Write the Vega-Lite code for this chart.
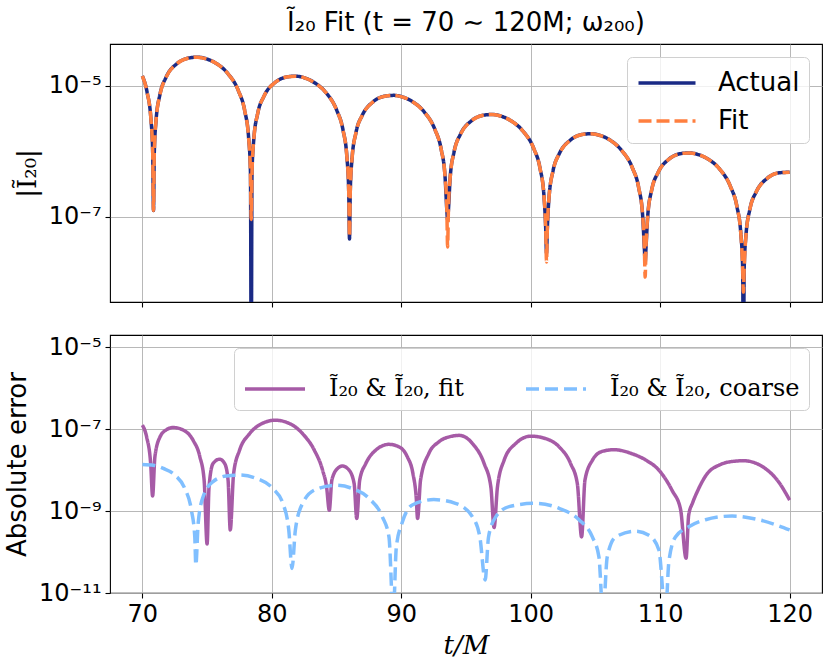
{
  "$schema": "https://vega.github.io/schema/vega-lite/v6.json",
  "background": "white",
  "padding": {"left": 4, "top": 9, "right": 8, "bottom": 5},
  "bounds": "flush",
  "spacing": 33,
  "resolve": {"scale": {"color": "independent", "strokeDash": "independent"}, "legend": {"color": "independent", "strokeDash": "independent"}},
  "config": {
    "font": "DejaVu Sans",
    "view": {"stroke": "black", "strokeWidth": 1.1},
    "axis": {
      "labelFontSize": 24, "labelColor": "black", "labelFont": "DejaVu Sans",
      "tickColor": "black", "tickSize": 5, "tickWidth": 1.1, "domain": false,
      "gridColor": "#b0b0b0", "gridWidth": 0.9, "labelPadding": 4,
      "titleFontSize": 26, "titleFontWeight": "normal", "titleColor": "black"
    },
    "legend": {
      "orient": "top-right", "offset": 13, "fillColor": "rgba(255,255,255,0.8)",
      "strokeColor": "#d0d0d0", "cornerRadius": 5, "padding": 9,
      "symbolType": "stroke", "symbolStrokeWidth": 3.5, "labelColor": "black",
      "labelFontSize": 26, "title": null, "labelLimit": 400
    }
  },
  "vconcat": [
    {
      "width": 712,
      "height": 258,
      "title": {"text": "Ĩ₂₀ Fit (t = 70 ∼ 120M; ω₂₀₀)", "fontSize": 26, "fontWeight": "normal", "font": "DejaVu Sans", "color": "black", "frame": "group", "anchor": "middle", "offset": 8},
      "data": {"values": [
        {"t": 70, "Actual": 1.419e-5, "Fit": 1.419e-5},
        {"t": 70.36, "Actual": 8.11e-6, "Fit": 8.11e-6},
        {"t": 70.66, "Actual": 3.13e-6, "Fit": 3.13e-6},
        {"t": 70.80, "Actual": 9.51e-7, "Fit": 9.51e-7},
        {"t": 70.86, "Actual": 1.25e-7, "Fit": 1.25e-7},
        {"t": 70.92, "Actual": 9.40e-7, "Fit": 9.40e-7},
        {"t": 71.06, "Actual": 3.02e-6, "Fit": 3.02e-6},
        {"t": 71.36, "Actual": 7.41e-6, "Fit": 7.41e-6},
        {"t": 71.84, "Actual": 1.37e-5, "Fit": 1.37e-5},
        {"t": 72.67, "Actual": 2.19e-5, "Fit": 2.19e-5},
        {"t": 73.58, "Actual": 2.67e-5, "Fit": 2.67e-5},
        {"t": 74.26, "Actual": 2.75e-5, "Fit": 2.75e-5},
        {"t": 75.01, "Actual": 2.57e-5, "Fit": 2.57e-5},
        {"t": 75.69, "Actual": 2.22e-5, "Fit": 2.22e-5},
        {"t": 76.60, "Actual": 1.55e-5, "Fit": 1.55e-5},
        {"t": 77.43, "Actual": 8.34e-6, "Fit": 8.34e-6},
        {"t": 77.91, "Actual": 4.15e-6, "Fit": 4.15e-6},
        {"t": 78.21, "Actual": 1.60e-6, "Fit": 1.60e-6},
        {"t": 78.35, "Actual": 4.86e-7, "Fit": 4.86e-7},
        {"t": 78.41, "Actual": 3e-10, "Fit": 9.12e-8},
        {"t": 78.47, "Actual": 4.81e-7, "Fit": 4.81e-7},
        {"t": 78.61, "Actual": 1.55e-6, "Fit": 1.55e-6},
        {"t": 78.91, "Actual": 3.79e-6, "Fit": 3.79e-6},
        {"t": 79.40, "Actual": 7.01e-6, "Fit": 7.01e-6},
        {"t": 80.23, "Actual": 1.12e-5, "Fit": 1.12e-5},
        {"t": 81.14, "Actual": 1.37e-5, "Fit": 1.37e-5},
        {"t": 81.83, "Actual": 1.41e-5, "Fit": 1.41e-5},
        {"t": 82.58, "Actual": 1.32e-5, "Fit": 1.32e-5},
        {"t": 83.27, "Actual": 1.13e-5, "Fit": 1.13e-5},
        {"t": 84.18, "Actual": 7.91e-6, "Fit": 7.91e-6},
        {"t": 85.01, "Actual": 4.27e-6, "Fit": 4.27e-6},
        {"t": 85.50, "Actual": 2.12e-6, "Fit": 2.12e-6},
        {"t": 85.80, "Actual": 8.17e-7, "Fit": 8.17e-7},
        {"t": 85.94, "Actual": 2.48e-7, "Fit": 2.48e-7},
        {"t": 86.00, "Actual": 4.57e-8, "Fit": 5.01e-8},
        {"t": 86.06, "Actual": 2.45e-7, "Fit": 2.45e-7},
        {"t": 86.20, "Actual": 7.89e-7, "Fit": 7.89e-7},
        {"t": 86.50, "Actual": 1.94e-6, "Fit": 1.94e-6},
        {"t": 86.99, "Actual": 3.57e-6, "Fit": 3.57e-6},
        {"t": 87.82, "Actual": 5.71e-6, "Fit": 5.71e-6},
        {"t": 88.73, "Actual": 6.98e-6, "Fit": 6.98e-6},
        {"t": 89.41, "Actual": 7.18e-6, "Fit": 7.18e-6},
        {"t": 90.17, "Actual": 6.71e-6, "Fit": 6.71e-6},
        {"t": 90.85, "Actual": 5.78e-6, "Fit": 5.78e-6},
        {"t": 91.76, "Actual": 4.04e-6, "Fit": 4.04e-6},
        {"t": 92.59, "Actual": 2.18e-6, "Fit": 2.18e-6},
        {"t": 93.08, "Actual": 1.08e-6, "Fit": 1.08e-6},
        {"t": 93.38, "Actual": 4.17e-7, "Fit": 4.17e-7},
        {"t": 93.52, "Actual": 1.27e-7, "Fit": 1.27e-7},
        {"t": 93.58, "Actual": 8.91e-8, "Fit": 3.47e-8},
        {"t": 93.64, "Actual": 1.25e-7, "Fit": 1.25e-7},
        {"t": 93.78, "Actual": 4.03e-7, "Fit": 4.03e-7},
        {"t": 94.08, "Actual": 9.89e-7, "Fit": 9.89e-7},
        {"t": 94.57, "Actual": 1.83e-6, "Fit": 1.83e-6},
        {"t": 95.41, "Actual": 2.92e-6, "Fit": 2.92e-6},
        {"t": 96.33, "Actual": 3.56e-6, "Fit": 3.56e-6},
        {"t": 97.02, "Actual": 3.66e-6, "Fit": 3.66e-6},
        {"t": 97.78, "Actual": 3.42e-6, "Fit": 3.42e-6},
        {"t": 98.47, "Actual": 2.94e-6, "Fit": 2.94e-6},
        {"t": 99.39, "Actual": 2.05e-6, "Fit": 2.05e-6},
        {"t": 100.23, "Actual": 1.11e-6, "Fit": 1.11e-6},
        {"t": 100.72, "Actual": 5.50e-7, "Fit": 5.50e-7},
        {"t": 101.02, "Actual": 2.12e-7, "Fit": 2.12e-7},
        {"t": 101.16, "Actual": 6.44e-8, "Fit": 6.44e-8},
        {"t": 101.22, "Actual": 2.79e-8, "Fit": 2.04e-8},
        {"t": 101.28, "Actual": 6.37e-8, "Fit": 6.37e-8},
        {"t": 101.42, "Actual": 2.05e-7, "Fit": 2.05e-7},
        {"t": 101.72, "Actual": 5.02e-7, "Fit": 5.02e-7},
        {"t": 102.21, "Actual": 9.27e-7, "Fit": 9.27e-7},
        {"t": 103.05, "Actual": 1.48e-6, "Fit": 1.48e-6},
        {"t": 103.96, "Actual": 1.81e-6, "Fit": 1.81e-6},
        {"t": 104.65, "Actual": 1.86e-6, "Fit": 1.86e-6},
        {"t": 105.41, "Actual": 1.74e-6, "Fit": 1.74e-6},
        {"t": 106.10, "Actual": 1.50e-6, "Fit": 1.50e-6},
        {"t": 107.01, "Actual": 1.04e-6, "Fit": 1.04e-6},
        {"t": 107.85, "Actual": 5.62e-7, "Fit": 5.62e-7},
        {"t": 108.34, "Actual": 2.79e-7, "Fit": 2.79e-7},
        {"t": 108.64, "Actual": 1.08e-7, "Fit": 1.08e-7},
        {"t": 108.78, "Actual": 3.27e-8, "Fit": 3.27e-8},
        {"t": 108.84, "Actual": 2.00e-8, "Fit": 1.20e-8},
        {"t": 108.90, "Actual": 3.24e-8, "Fit": 3.24e-8},
        {"t": 109.04, "Actual": 1.04e-7, "Fit": 1.04e-7},
        {"t": 109.34, "Actual": 2.56e-7, "Fit": 2.56e-7},
        {"t": 109.83, "Actual": 4.72e-7, "Fit": 4.72e-7},
        {"t": 110.66, "Actual": 7.55e-7, "Fit": 7.55e-7},
        {"t": 111.57, "Actual": 9.23e-7, "Fit": 9.23e-7},
        {"t": 112.26, "Actual": 9.46e-7, "Fit": 9.46e-7},
        {"t": 113.01, "Actual": 8.85e-7, "Fit": 8.85e-7},
        {"t": 113.70, "Actual": 7.62e-7, "Fit": 7.62e-7},
        {"t": 114.61, "Actual": 5.32e-7, "Fit": 5.32e-7},
        {"t": 115.44, "Actual": 2.87e-7, "Fit": 2.87e-7},
        {"t": 115.93, "Actual": 1.43e-7, "Fit": 1.43e-7},
        {"t": 116.23, "Actual": 5.51e-8, "Fit": 5.51e-8},
        {"t": 116.37, "Actual": 1.67e-8, "Fit": 1.67e-8},
        {"t": 116.43, "Actual": 3e-10, "Fit": 7.08e-9},
        {"t": 116.49, "Actual": 1.66e-8, "Fit": 1.66e-8},
        {"t": 116.63, "Actual": 5.31e-8, "Fit": 5.31e-8},
        {"t": 116.93, "Actual": 1.31e-7, "Fit": 1.31e-7},
        {"t": 117.42, "Actual": 2.41e-7, "Fit": 2.41e-7},
        {"t": 118.25, "Actual": 3.85e-7, "Fit": 3.85e-7},
        {"t": 119.17, "Actual": 4.70e-7, "Fit": 4.70e-7},
        {"t": 120, "Actual": 4.80e-7, "Fit": 4.80e-7}
      ]},
      "transform": [{"fold": ["Actual", "Fit"], "as": ["series", "y"]}],
      "mark": {"type": "line", "clip": true, "strokeWidth": 3.5, "interpolate": "monotone", "strokeCap": "butt"},
      "encoding": {
        "x": {"field": "t", "type": "quantitative", "scale": {"domain": [67.5, 122.5], "nice": false, "zero": false},
              "axis": {"values": [70, 80, 90, 100, 110, 120], "labels": false, "title": null}},
        "y": {"field": "y", "type": "quantitative", "scale": {"type": "log", "domain": [4.99e-9, 4.375e-5], "nice": false},
              "axis": {"values": [1e-5, 1e-7], "labelExpr": "datum.value < 5e-11 ? '10⁻¹¹' : datum.value < 5e-9 ? '10⁻⁹' : datum.value < 5e-7 ? '10⁻⁷' : '10⁻⁵'",
                       "title": "|Ĩ₂₀|", "titleFont": "DejaVu Serif", "titlePadding": 8}},
        "color": {"field": "series", "type": "nominal", "scale": {"domain": ["Actual", "Fit"], "range": ["#1a2a85", "#ff7f3f"]},
                  "legend": {"labelFont": "DejaVu Sans", "symbolType": "M-1.9,0L1.9,0", "symbolSize": 900, "symbolOffset": 14, "rowPadding": 8, "labelOffset": 34, "direction": "vertical"}},
        "strokeDash": {"field": "series", "type": "nominal", "scale": {"domain": ["Actual", "Fit"], "range": [[1, 0], [13, 5]]},
                  "legend": {"labelFont": "DejaVu Sans", "symbolType": "M-1.9,0L1.9,0", "symbolSize": 900, "symbolOffset": 14, "rowPadding": 8, "labelOffset": 34, "direction": "vertical"}}
      }
    },
    {
      "width": 712,
      "height": 258,
      "data": {"values": [
        {"t": 70, "y": 1.26e-7, "s": "Ĩ₂₀ & Ĩ₂₀, fit"},
        {"t": 70.33, "y": 6.46e-8, "s": "Ĩ₂₀ & Ĩ₂₀, fit"},
        {"t": 70.64, "y": 1.45e-8, "s": "Ĩ₂₀ & Ĩ₂₀, fit"},
        {"t": 70.79, "y": 2.34e-9, "s": "Ĩ₂₀ & Ĩ₂₀, fit"},
        {"t": 70.97, "y": 2.14e-8, "s": "Ĩ₂₀ & Ĩ₂₀, fit"},
        {"t": 71.36, "y": 6.46e-8, "s": "Ĩ₂₀ & Ĩ₂₀, fit"},
        {"t": 71.87, "y": 9.77e-8, "s": "Ĩ₂₀ & Ĩ₂₀, fit"},
        {"t": 72.38, "y": 1.10e-7, "s": "Ĩ₂₀ & Ĩ₂₀, fit"},
        {"t": 73.15, "y": 9.55e-8, "s": "Ĩ₂₀ & Ĩ₂₀, fit"},
        {"t": 73.92, "y": 5.37e-8, "s": "Ĩ₂₀ & Ĩ₂₀, fit"},
        {"t": 74.44, "y": 2.14e-8, "s": "Ĩ₂₀ & Ĩ₂₀, fit"},
        {"t": 74.77, "y": 5.75e-9, "s": "Ĩ₂₀ & Ĩ₂₀, fit"},
        {"t": 75.0, "y": 1.58e-10, "s": "Ĩ₂₀ & Ĩ₂₀, fit"},
        {"t": 75.15, "y": 3.89e-9, "s": "Ĩ₂₀ & Ĩ₂₀, fit"},
        {"t": 75.46, "y": 1.45e-8, "s": "Ĩ₂₀ & Ĩ₂₀, fit"},
        {"t": 75.97, "y": 1.86e-8, "s": "Ĩ₂₀ & Ĩ₂₀, fit"},
        {"t": 76.36, "y": 1.45e-8, "s": "Ĩ₂₀ & Ĩ₂₀, fit"},
        {"t": 76.62, "y": 5.75e-9, "s": "Ĩ₂₀ & Ĩ₂₀, fit"},
        {"t": 76.79, "y": 3.47e-10, "s": "Ĩ₂₀ & Ĩ₂₀, fit"},
        {"t": 77.05, "y": 8.32e-9, "s": "Ĩ₂₀ & Ĩ₂₀, fit"},
        {"t": 77.51, "y": 3.09e-8, "s": "Ĩ₂₀ & Ĩ₂₀, fit"},
        {"t": 78.28, "y": 7.76e-8, "s": "Ĩ₂₀ & Ĩ₂₀, fit"},
        {"t": 79.31, "y": 1.41e-7, "s": "Ĩ₂₀ & Ĩ₂₀, fit"},
        {"t": 80.26, "y": 1.66e-7, "s": "Ĩ₂₀ & Ĩ₂₀, fit"},
        {"t": 81.36, "y": 1.38e-7, "s": "Ĩ₂₀ & Ĩ₂₀, fit"},
        {"t": 82.38, "y": 7.76e-8, "s": "Ĩ₂₀ & Ĩ₂₀, fit"},
        {"t": 83.28, "y": 3.09e-8, "s": "Ĩ₂₀ & Ĩ₂₀, fit"},
        {"t": 83.92, "y": 1.0e-8, "s": "Ĩ₂₀ & Ĩ₂₀, fit"},
        {"t": 84.23, "y": 3.89e-9, "s": "Ĩ₂₀ & Ĩ₂₀, fit"},
        {"t": 84.44, "y": 1.05e-9, "s": "Ĩ₂₀ & Ĩ₂₀, fit"},
        {"t": 84.64, "y": 5.75e-9, "s": "Ĩ₂₀ & Ĩ₂₀, fit"},
        {"t": 85.08, "y": 1.10e-8, "s": "Ĩ₂₀ & Ĩ₂₀, fit"},
        {"t": 85.46, "y": 1.26e-8, "s": "Ĩ₂₀ & Ĩ₂₀, fit"},
        {"t": 85.97, "y": 1.0e-8, "s": "Ĩ₂₀ & Ĩ₂₀, fit"},
        {"t": 86.36, "y": 4.68e-9, "s": "Ĩ₂₀ & Ĩ₂₀, fit"},
        {"t": 86.56, "y": 6.61e-10, "s": "Ĩ₂₀ & Ĩ₂₀, fit"},
        {"t": 86.79, "y": 5.75e-9, "s": "Ĩ₂₀ & Ĩ₂₀, fit"},
        {"t": 87.26, "y": 1.45e-8, "s": "Ĩ₂₀ & Ĩ₂₀, fit"},
        {"t": 88.03, "y": 3.09e-8, "s": "Ĩ₂₀ & Ĩ₂₀, fit"},
        {"t": 89.05, "y": 4.27e-8, "s": "Ĩ₂₀ & Ĩ₂₀, fit"},
        {"t": 89.82, "y": 3.72e-8, "s": "Ĩ₂₀ & Ĩ₂₀, fit"},
        {"t": 90.46, "y": 2.14e-8, "s": "Ĩ₂₀ & Ĩ₂₀, fit"},
        {"t": 90.90, "y": 8.32e-9, "s": "Ĩ₂₀ & Ĩ₂₀, fit"},
        {"t": 91.15, "y": 2.24e-9, "s": "Ĩ₂₀ & Ĩ₂₀, fit"},
        {"t": 91.26, "y": 6.61e-10, "s": "Ĩ₂₀ & Ĩ₂₀, fit"},
        {"t": 91.49, "y": 5.75e-9, "s": "Ĩ₂₀ & Ĩ₂₀, fit"},
        {"t": 92.13, "y": 2.57e-8, "s": "Ĩ₂₀ & Ĩ₂₀, fit"},
        {"t": 92.90, "y": 4.90e-8, "s": "Ĩ₂₀ & Ĩ₂₀, fit"},
        {"t": 93.92, "y": 6.76e-8, "s": "Ĩ₂₀ & Ĩ₂₀, fit"},
        {"t": 94.47, "y": 7.08e-8, "s": "Ĩ₂₀ & Ĩ₂₀, fit"},
        {"t": 95.5, "y": 4.47e-8, "s": "Ĩ₂₀ & Ĩ₂₀, fit"},
        {"t": 96.4, "y": 1.45e-8, "s": "Ĩ₂₀ & Ĩ₂₀, fit"},
        {"t": 96.92, "y": 3.89e-9, "s": "Ĩ₂₀ & Ĩ₂₀, fit"},
        {"t": 97.17, "y": 3.98e-10, "s": "Ĩ₂₀ & Ĩ₂₀, fit"},
        {"t": 97.43, "y": 3.89e-9, "s": "Ĩ₂₀ & Ĩ₂₀, fit"},
        {"t": 97.94, "y": 1.74e-8, "s": "Ĩ₂₀ & Ĩ₂₀, fit"},
        {"t": 98.84, "y": 4.47e-8, "s": "Ĩ₂₀ & Ĩ₂₀, fit"},
        {"t": 100.0, "y": 6.76e-8, "s": "Ĩ₂₀ & Ĩ₂₀, fit"},
        {"t": 101.16, "y": 5.89e-8, "s": "Ĩ₂₀ & Ĩ₂₀, fit"},
        {"t": 102.19, "y": 3.72e-8, "s": "Ĩ₂₀ & Ĩ₂₀, fit"},
        {"t": 103.08, "y": 1.45e-8, "s": "Ĩ₂₀ & Ĩ₂₀, fit"},
        {"t": 103.6, "y": 4.68e-9, "s": "Ĩ₂₀ & Ĩ₂₀, fit"},
        {"t": 103.93, "y": 2.34e-10, "s": "Ĩ₂₀ & Ĩ₂₀, fit"},
        {"t": 104.19, "y": 5.75e-9, "s": "Ĩ₂₀ & Ĩ₂₀, fit"},
        {"t": 104.76, "y": 1.74e-8, "s": "Ĩ₂₀ & Ĩ₂₀, fit"},
        {"t": 105.53, "y": 2.88e-8, "s": "Ĩ₂₀ & Ĩ₂₀, fit"},
        {"t": 106.43, "y": 3.16e-8, "s": "Ĩ₂₀ & Ĩ₂₀, fit"},
        {"t": 107.84, "y": 2.51e-8, "s": "Ĩ₂₀ & Ĩ₂₀, fit"},
        {"t": 108.87, "y": 1.78e-8, "s": "Ĩ₂₀ & Ĩ₂₀, fit"},
        {"t": 109.9, "y": 1.0e-8, "s": "Ĩ₂₀ & Ĩ₂₀, fit"},
        {"t": 110.93, "y": 3.16e-9, "s": "Ĩ₂₀ & Ĩ₂₀, fit"},
        {"t": 111.57, "y": 1.12e-9, "s": "Ĩ₂₀ & Ĩ₂₀, fit"},
        {"t": 112.0, "y": 7.08e-11, "s": "Ĩ₂₀ & Ĩ₂₀, fit"},
        {"t": 112.2, "y": 7.94e-10, "s": "Ĩ₂₀ & Ĩ₂₀, fit"},
        {"t": 112.5, "y": 1.58e-9, "s": "Ĩ₂₀ & Ĩ₂₀, fit"},
        {"t": 112.9, "y": 3.16e-9, "s": "Ĩ₂₀ & Ĩ₂₀, fit"},
        {"t": 113.6, "y": 7.94e-9, "s": "Ĩ₂₀ & Ĩ₂₀, fit"},
        {"t": 114.6, "y": 1.35e-8, "s": "Ĩ₂₀ & Ĩ₂₀, fit"},
        {"t": 115.5, "y": 1.62e-8, "s": "Ĩ₂₀ & Ĩ₂₀, fit"},
        {"t": 116.45, "y": 1.70e-8, "s": "Ĩ₂₀ & Ĩ₂₀, fit"},
        {"t": 118.2, "y": 1.05e-8, "s": "Ĩ₂₀ & Ĩ₂₀, fit"},
        {"t": 119.2, "y": 4.90e-9, "s": "Ĩ₂₀ & Ĩ₂₀, fit"},
        {"t": 120, "y": 1.86e-9, "s": "Ĩ₂₀ & Ĩ₂₀, fit"},
        {"t": 70, "y": 1.38e-8, "s": "Ĩ₂₀ & Ĩ₂₀, coarse"},
        {"t": 70.85, "y": 1.32e-8, "s": "Ĩ₂₀ & Ĩ₂₀, coarse"},
        {"t": 71.62, "y": 1.10e-8, "s": "Ĩ₂₀ & Ĩ₂₀, coarse"},
        {"t": 72.51, "y": 7.59e-9, "s": "Ĩ₂₀ & Ĩ₂₀, coarse"},
        {"t": 73.28, "y": 3.55e-9, "s": "Ĩ₂₀ & Ĩ₂₀, coarse"},
        {"t": 73.79, "y": 1.05e-9, "s": "Ĩ₂₀ & Ĩ₂₀, coarse"},
        {"t": 74.05, "y": 2.34e-10, "s": "Ĩ₂₀ & Ĩ₂₀, coarse"},
        {"t": 74.13, "y": 4.79e-11, "s": "Ĩ₂₀ & Ĩ₂₀, coarse"},
        {"t": 74.31, "y": 5.01e-10, "s": "Ĩ₂₀ & Ĩ₂₀, coarse"},
        {"t": 74.69, "y": 2.24e-9, "s": "Ĩ₂₀ & Ĩ₂₀, coarse"},
        {"t": 75.46, "y": 5.25e-9, "s": "Ĩ₂₀ & Ĩ₂₀, coarse"},
        {"t": 76.49, "y": 7.24e-9, "s": "Ĩ₂₀ & Ĩ₂₀, coarse"},
        {"t": 77.51, "y": 7.59e-9, "s": "Ĩ₂₀ & Ĩ₂₀, coarse"},
        {"t": 78.79, "y": 6.31e-9, "s": "Ĩ₂₀ & Ĩ₂₀, coarse"},
        {"t": 80.08, "y": 3.55e-9, "s": "Ĩ₂₀ & Ĩ₂₀, coarse"},
        {"t": 80.85, "y": 1.55e-9, "s": "Ĩ₂₀ & Ĩ₂₀, coarse"},
        {"t": 81.31, "y": 3.47e-10, "s": "Ĩ₂₀ & Ĩ₂₀, coarse"},
        {"t": 81.56, "y": 3.98e-11, "s": "Ĩ₂₀ & Ĩ₂₀, coarse"},
        {"t": 81.82, "y": 3.47e-10, "s": "Ĩ₂₀ & Ĩ₂₀, coarse"},
        {"t": 82.38, "y": 1.55e-9, "s": "Ĩ₂₀ & Ĩ₂₀, coarse"},
        {"t": 83.41, "y": 3.39e-9, "s": "Ĩ₂₀ & Ĩ₂₀, coarse"},
        {"t": 84.95, "y": 4.27e-9, "s": "Ĩ₂₀ & Ĩ₂₀, coarse"},
        {"t": 86.23, "y": 3.55e-9, "s": "Ĩ₂₀ & Ĩ₂₀, coarse"},
        {"t": 87.51, "y": 2.04e-9, "s": "Ĩ₂₀ & Ĩ₂₀, coarse"},
        {"t": 88.54, "y": 7.24e-10, "s": "Ĩ₂₀ & Ĩ₂₀, coarse"},
        {"t": 89.05, "y": 2.34e-10, "s": "Ĩ₂₀ & Ĩ₂₀, coarse"},
        {"t": 89.38, "y": 3e-12, "s": "Ĩ₂₀ & Ĩ₂₀, coarse"},
        {"t": 89.62, "y": 1.35e-10, "s": "Ĩ₂₀ & Ĩ₂₀, coarse"},
        {"t": 90.08, "y": 5.37e-10, "s": "Ĩ₂₀ & Ĩ₂₀, coarse"},
        {"t": 90.85, "y": 1.41e-9, "s": "Ĩ₂₀ & Ĩ₂₀, coarse"},
        {"t": 92.51, "y": 1.91e-9, "s": "Ĩ₂₀ & Ĩ₂₀, coarse"},
        {"t": 94.18, "y": 1.55e-9, "s": "Ĩ₂₀ & Ĩ₂₀, coarse"},
        {"t": 95.5, "y": 7.24e-10, "s": "Ĩ₂₀ & Ĩ₂₀, coarse"},
        {"t": 96.07, "y": 2.34e-10, "s": "Ĩ₂₀ & Ĩ₂₀, coarse"},
        {"t": 96.48, "y": 2.09e-11, "s": "Ĩ₂₀ & Ĩ₂₀, coarse"},
        {"t": 96.74, "y": 2.34e-10, "s": "Ĩ₂₀ & Ĩ₂₀, coarse"},
        {"t": 97.3, "y": 7.24e-10, "s": "Ĩ₂₀ & Ĩ₂₀, coarse"},
        {"t": 98.33, "y": 1.29e-9, "s": "Ĩ₂₀ & Ĩ₂₀, coarse"},
        {"t": 100.39, "y": 1.55e-9, "s": "Ĩ₂₀ & Ĩ₂₀, coarse"},
        {"t": 102.19, "y": 1.17e-9, "s": "Ĩ₂₀ & Ĩ₂₀, coarse"},
        {"t": 103.73, "y": 6.17e-10, "s": "Ĩ₂₀ & Ĩ₂₀, coarse"},
        {"t": 104.76, "y": 2.34e-10, "s": "Ĩ₂₀ & Ĩ₂₀, coarse"},
        {"t": 105.27, "y": 7.59e-11, "s": "Ĩ₂₀ & Ĩ₂₀, coarse"},
        {"t": 105.58, "y": 3e-12, "s": "Ĩ₂₀ & Ĩ₂₀, coarse"},
        {"t": 105.91, "y": 7.59e-11, "s": "Ĩ₂₀ & Ĩ₂₀, coarse"},
        {"t": 106.56, "y": 2.34e-10, "s": "Ĩ₂₀ & Ĩ₂₀, coarse"},
        {"t": 108.1, "y": 3.24e-10, "s": "Ĩ₂₀ & Ĩ₂₀, coarse"},
        {"t": 109.13, "y": 2.57e-10, "s": "Ĩ₂₀ & Ĩ₂₀, coarse"},
        {"t": 109.9, "y": 1.12e-10, "s": "Ĩ₂₀ & Ĩ₂₀, coarse"},
        {"t": 110.41, "y": 3e-12, "s": "Ĩ₂₀ & Ĩ₂₀, coarse"},
        {"t": 110.67, "y": 5.75e-11, "s": "Ĩ₂₀ & Ĩ₂₀, coarse"},
        {"t": 111.18, "y": 2.34e-10, "s": "Ĩ₂₀ & Ĩ₂₀, coarse"},
        {"t": 112.21, "y": 4.17e-10, "s": "Ĩ₂₀ & Ĩ₂₀, coarse"},
        {"t": 113.5, "y": 6.17e-10, "s": "Ĩ₂₀ & Ĩ₂₀, coarse"},
        {"t": 115.55, "y": 7.59e-10, "s": "Ĩ₂₀ & Ĩ₂₀, coarse"},
        {"t": 117.61, "y": 6.17e-10, "s": "Ĩ₂₀ & Ĩ₂₀, coarse"},
        {"t": 120, "y": 3.47e-10, "s": "Ĩ₂₀ & Ĩ₂₀, coarse"}
      ]},
      "mark": {"type": "line", "clip": true, "strokeWidth": 3.5, "interpolate": "monotone", "strokeCap": "butt"},
      "encoding": {
        "x": {"field": "t", "type": "quantitative", "scale": {"domain": [67.5, 122.5], "nice": false, "zero": false},
              "axis": {"values": [70, 80, 90, 100, 110, 120], "title": "t/M", "titleFont": "DejaVu Serif", "titleFontStyle": "italic", "titlePadding": 6}},
        "y": {"field": "y", "type": "quantitative", "scale": {"type": "log", "domain": [1e-11, 2e-5], "nice": false},
              "axis": {"values": [1e-5, 1e-7, 1e-9, 1e-11], "labelExpr": "datum.value < 5e-11 ? '10⁻¹¹' : datum.value < 5e-9 ? '10⁻⁹' : datum.value < 5e-7 ? '10⁻⁷' : '10⁻⁵'",
                       "title": "Absolute error", "titlePadding": 8}},
        "color": {"field": "s", "type": "nominal", "scale": {"domain": ["Ĩ₂₀ & Ĩ₂₀, fit", "Ĩ₂₀ & Ĩ₂₀, coarse"], "range": ["#a65ba6", "#80bfff"]},
                  "legend": {"labelFont": "DejaVu Serif", "labelFontSize": 24, "symbolSize": 3600, "columns": 2, "direction": "horizontal", "columnPadding": 55, "labelOffset": 22}},
        "strokeDash": {"field": "s", "type": "nominal", "scale": {"domain": ["Ĩ₂₀ & Ĩ₂₀, fit", "Ĩ₂₀ & Ĩ₂₀, coarse"], "range": [[1, 0], [13, 6]]},
                  "legend": {"labelFont": "DejaVu Serif", "labelFontSize": 24, "symbolSize": 3600, "columns": 2, "direction": "horizontal", "columnPadding": 55, "labelOffset": 22}}
      }
    }
  ]
}
